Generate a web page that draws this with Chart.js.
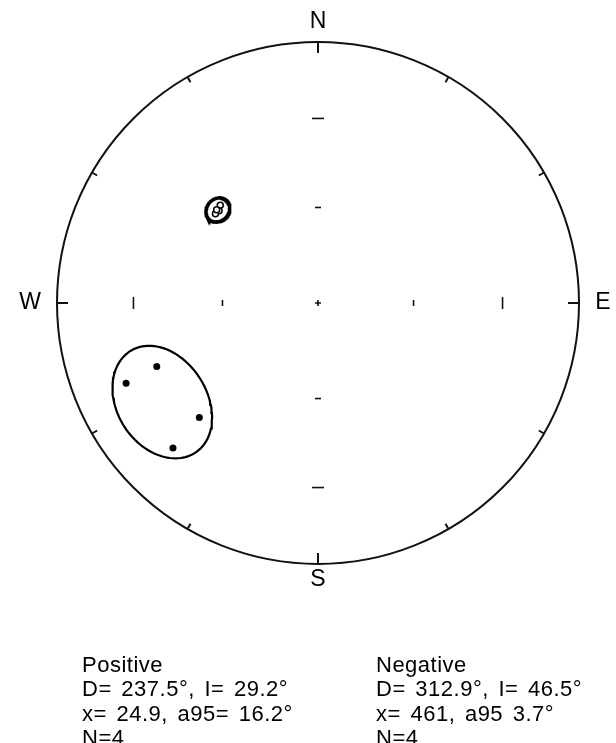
<!DOCTYPE html>
<html>
<head>
<meta charset="utf-8">
<script src="https://cdn.jsdelivr.net/npm/chart.js@4/dist/chart.umd.min.js"></script>
<style>
  body { margin: 0; background: #fff; }
  #wrap { position: relative; width: 616px; height: 743px; overflow: hidden; }
  .stats { position: absolute; top: 653px; font-family: "Liberation Sans", Arial, sans-serif; font-size: 22px; line-height: 24.3px; letter-spacing: 0.5px; word-spacing: 3px; color: #000; }
</style>
</head>
<body>
<div id="wrap">
  <canvas id="stereonet" width="616" height="743"></canvas>
  <div class="stats" style="left:82px">Positive<br>D= 237.5°, I= 29.2°<br>x= 24.9, a95= 16.2°<br>N=4</div>
  <div class="stats" style="left:376px">Negative<br>D= 312.9°, I= 46.5°<br>x= 461, a95 3.7°<br>N=4</div>
</div>
<script>
// site directions (declination / inclination, degrees)
var posDec = [247.3, 248.5, 226.0, 225.0];
var posInc = [21.4, 34.0, 36.9, 22.5];
var negDec = [315.0, 313.0, 311.0, 312.6];
var negInc = [46.0, 47.0, 46.8, 46.2];

// Fisher means and a95
var posMean = [237.5, 29.2, 16.2];
var negMean = [312.9, 46.5, 3.7];

var compass = ['N', 'E', 'S', 'W'];
var incTicks = [30, 60];

var rad = Math.PI / 180;

// Lambert equal-area (Schmidt) projection, unit primitive circle
function project(dec, inc) {
  var r = Math.SQRT2 * Math.sin((90 - Math.abs(inc)) / 2 * rad);
  return { x: r * Math.sin(dec * rad), y: r * Math.cos(dec * rad) };
}

function points(decs, incs) {
  return decs.map(function (d, i) { return project(d, incs[i]); });
}

// small circle of radius a95 around the mean direction
function cone(mean) {
  var D = mean[0] * rad, I = mean[1] * rad, a = mean[2] * rad;
  var m = [Math.cos(I) * Math.cos(D), Math.cos(I) * Math.sin(D), Math.sin(I)];
  var u = [-Math.sin(I) * Math.cos(D), -Math.sin(I) * Math.sin(D), Math.cos(I)];
  var v = [-Math.sin(D), Math.cos(D), 0];
  var out = [];
  for (var k = 0; k <= 120; k++) {
    var t = k / 120 * 2 * Math.PI;
    var p = [0, 1, 2].map(function (j) {
      return Math.cos(a) * m[j] + Math.sin(a) * (Math.cos(t) * u[j] + Math.sin(t) * v[j]);
    });
    var inc = Math.asin(p[2]) / rad;
    var dec = Math.atan2(p[1], p[0]) / rad;
    out.push(project(dec, inc));
  }
  return out;
}

var netPlugin = {
  id: 'net',
  beforeDatasetsDraw: function (chart) {
    var c = chart.ctx, xs = chart.scales.x, ys = chart.scales.y;
    var cx = xs.getPixelForValue(0), cy = ys.getPixelForValue(0);
    var R = xs.getPixelForValue(1) - cx;
    c.save();
    c.strokeStyle = '#111';
    c.lineWidth = 2;
    c.beginPath();
    c.arc(cx, cy, R, 0, 2 * Math.PI);
    c.stroke();
    // ticks on primitive every 30 deg
    for (var az = 0; az < 360; az += 30) {
      var len = az % 90 === 0 ? 11 : 6;
      var s = Math.sin(az * rad), co = Math.cos(az * rad);
      c.beginPath();
      c.moveTo(cx + R * s, cy - R * co);
      c.lineTo(cx + (R - len) * s, cy - (R - len) * co);
      c.stroke();
    }
    // inclination ticks on the axes
    c.lineWidth = 1.6;
    incTicks.forEach(function (inc) {
      var r = project(0, inc).y * R;
      var h = inc === 30 ? 6 : 3;
      [-1, 1].forEach(function (sg) {
        c.beginPath();
        c.moveTo(cx + sg * r, cy - h);
        c.lineTo(cx + sg * r, cy + h);
        c.stroke();
        c.beginPath();
        c.moveTo(cx - h, cy + sg * r);
        c.lineTo(cx + h, cy + sg * r);
        c.stroke();
      });
    });
    c.beginPath();
    c.moveTo(cx - 3, cy); c.lineTo(cx + 3, cy);
    c.moveTo(cx, cy - 3); c.lineTo(cx, cy + 3);
    c.stroke();
    // compass letters
    c.fillStyle = '#000';
    c.font = '23px "Liberation Sans", Arial, sans-serif';
    c.textAlign = 'center';
    c.textBaseline = 'middle';
    var offs = [R + 20, R + 24, R + 16, R + 27];
    compass.forEach(function (lab, i) {
      var s = Math.sin(i * 90 * rad), co = Math.cos(i * 90 * rad);
      c.fillText(lab, cx + offs[i] * s, cy - offs[i] * co);
    });
    c.restore();
  }
};

var ctx = document.getElementById('stereonet').getContext('2d');
var chart = new Chart(ctx, {
  type: 'scatter',
  data: {
    datasets: [{
      label: 'Positive',
      data: points(posDec, posInc),
      pointRadius: 3.5,
      pointBackgroundColor: '#000',
      pointBorderColor: '#000',
      pointBorderWidth: 0
    }, {
      label: 'Negative',
      data: points(negDec, negInc),
      pointRadius: 3,
      pointBackgroundColor: '#fff',
      pointBorderColor: '#000',
      pointBorderWidth: 1.5
    }, {
      label: 'Positive a95',
      data: cone(posMean),
      showLine: true,
      pointRadius: 0,
      borderColor: '#000',
      borderWidth: 2.2,
      fill: false
    }, {
      label: 'Negative a95',
      data: cone(negMean),
      showLine: true,
      pointRadius: 0,
      borderColor: '#000',
      borderWidth: 3.6,
      fill: false
    }]
  },
  options: {
    responsive: false,
    animation: false,
    devicePixelRatio: 1,
    layout: { padding: { left: 57, right: 37, top: 42, bottom: 179 } },
    scales: {
      x: { type: 'linear', min: -1, max: 1, display: false },
      y: { type: 'linear', min: -1, max: 1, display: false }
    },
    plugins: {
      legend: { display: false },
      tooltip: { enabled: false }
    }
  },
  plugins: [netPlugin]
});
</script>
</body>
</html>
